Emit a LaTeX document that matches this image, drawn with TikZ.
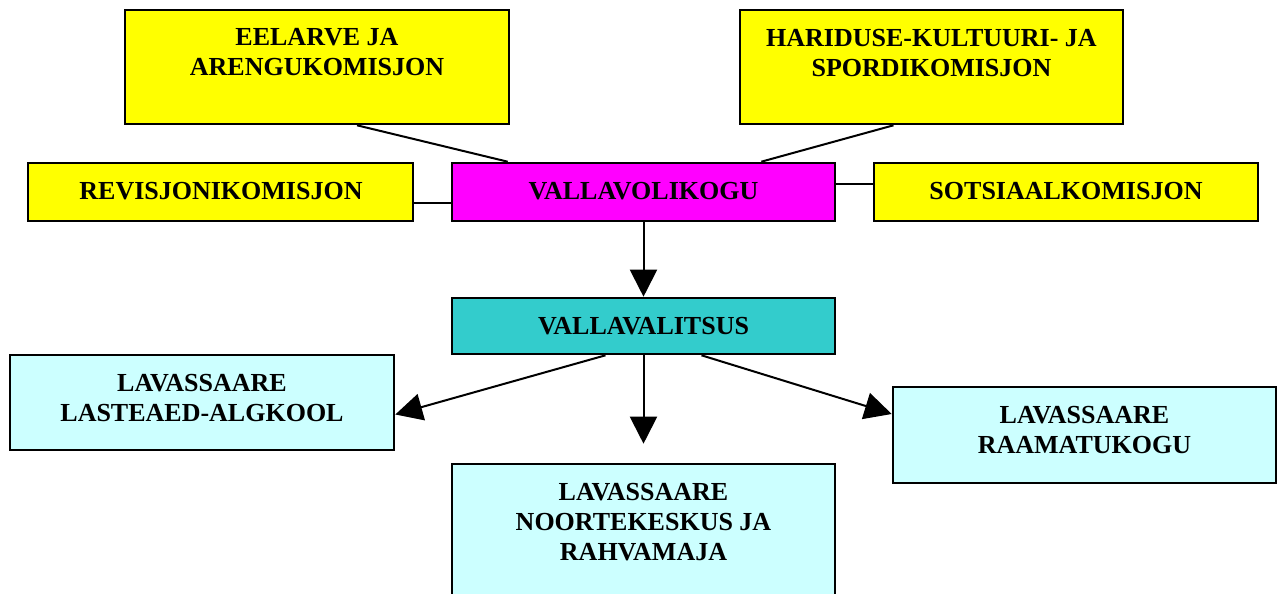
\documentclass[tikz,border=0pt]{standalone}
\usepackage{fontspec}
\setmainfont{Liberation Serif}
\usetikzlibrary{arrows.meta,calc}
\definecolor{cYel}{HTML}{FFFF00}
\definecolor{cMag}{HTML}{FF00FF}
\definecolor{cTeal}{HTML}{33CCCC}
\definecolor{cLight}{HTML}{CCFFFF}
\begin{document}
\begin{tikzpicture}[x=1pt,y=-1pt,
  box/.style={draw=black,line width=2.6pt,rectangle,inner sep=0pt,minimum width=384pt},
  txt/.style={font=\fontsize{26}{30}\selectfont\bfseries,align=center,inner sep=0pt,text=black},
  conn/.style={line width=2pt,draw=black},
  arr/.style={line width=2pt,draw=black,-{Triangle[length=27pt,width=27pt]}}]
\useasboundingbox (0,0) rectangle (1278,594);
\clip (0,0) rectangle (1278,594);
% boxes
\node[box,fill=cYel,minimum height=114pt] (eel) at (317,67) {};
\node[box,fill=cYel,minimum height=114pt,minimum width=383pt] (har) at (931.5,67) {};
\node[box,fill=cYel,minimum height=58pt,minimum width=385pt] (rev) at (220.5,192) {};
\node[box,fill=cMag,minimum height=58pt,minimum width=383pt] (vol) at (643.5,192) {};
\node[box,fill=cYel,minimum height=58pt] (sot) at (1066,192) {};
\node[box,fill=cTeal,minimum height=56pt,minimum width=383pt] (vvt) at (643.5,326) {};
\node[box,fill=cLight,minimum height=95pt] (las) at (202,402.5) {};
\node[box,fill=cLight,minimum height=96pt,minimum width=383pt] (raa) at (1084.5,435) {};
\node[box,fill=cLight,minimum height=160pt,minimum width=383pt] (noo) at (643.5,544) {};
% texts
\node[txt] (eelT) at (317,52) {EELARVE JA\\ARENGUKOMISJON};
\node[txt] (harT) at (931.5,53) {HARIDUSE-KULTUURI- JA\\SPORDIKOMISJON};
\node[txt] (revT) at (221,191) {REVISJONIKOMISJON};
\node[txt] (volT) at (643.5,191) {VALLAVOLIKOGU};
\node[txt] (sotT) at (1066,191) {SOTSIAALKOMISJON};
\node[txt] (vvtT) at (643.5,326) {VALLAVALITSUS};
\node[txt] (lasT) at (202,398) {LAVASSAARE\\LASTEAED-ALGKOOL};
\node[txt] (raaT) at (1084.5,430) {LAVASSAARE\\RAAMATUKOGU};
\node[txt] (nooT) at (643.5,522) {LAVASSAARE\\NOORTEKESKUS JA\\RAHVAMAJA};
% connectors
\draw[conn] ([xshift=40pt]eel.south) -- ([xshift=57pt]vol.north west);
\draw[conn] ([xshift=-38pt]har.south) -- ([xshift=-75pt]vol.north east);
\draw[conn] ([yshift=-11pt]rev.east) -- ([yshift=-11pt]vol.west);
\draw[conn] ([yshift=8pt]vol.east) -- ([yshift=8pt]sot.west);
\draw[arr] (vol.south) -- (vvt.north);
\draw[arr,shorten >=19pt] (vvt.south) -- (noo.north);
\draw[arr] ([xshift=-38pt]vvt.south) -- ([yshift=-12pt]las.east);
\draw[arr] ([xshift=58pt]vvt.south) -- ([yshift=21pt]raa.west);
\end{tikzpicture}
\end{document}
